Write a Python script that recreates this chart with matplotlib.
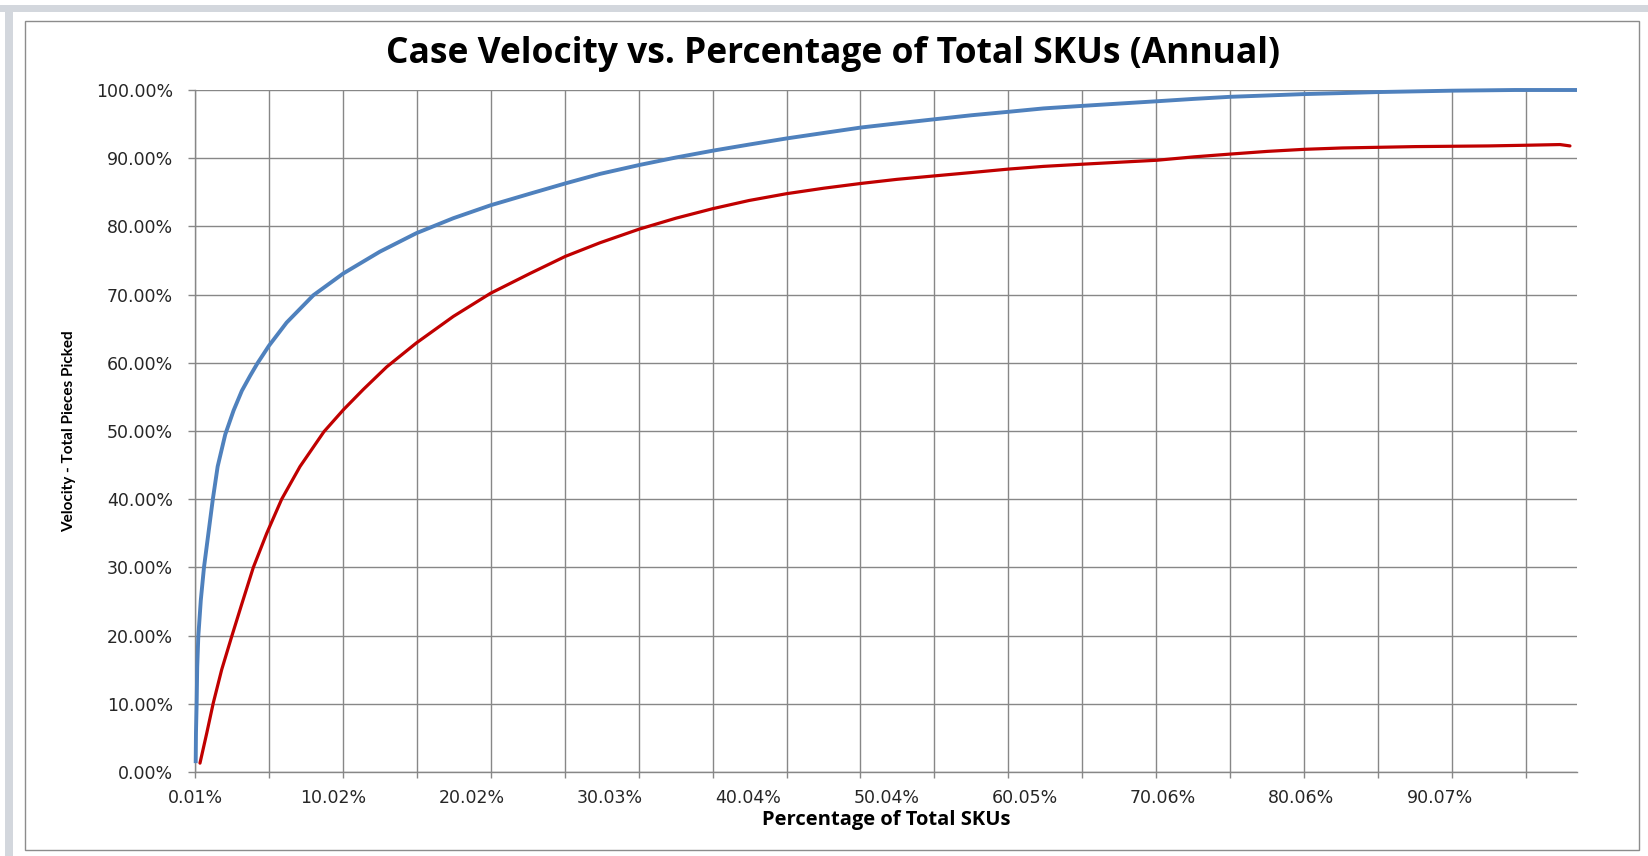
import matplotlib
matplotlib.use("Agg")
import matplotlib.pyplot as plt
from matplotlib.patches import Rectangle

# cumulative share of pieces picked vs. share of SKUs
sku_pct_blue = [0.06, 0.08, 0.13, 0.17, 0.25, 0.43, 0.66, 0.98, 1.3, 1.65, 2.2,
                2.8, 3.4, 4.0, 4.52, 5.36, 6.64, 8.57, 10.74, 13.39, 16.02, 18.7, 21.4,
                24.25, 26.8, 29.31, 32.15, 34.8, 37.47, 40.1, 42.82, 45.5, 48.2,
                50.8, 53.48, 56.2, 58.85, 61.4, 64.04, 66.8, 69.61, 72.3, 74.89,
                77.6, 80.25, 83.0, 85.67, 88.3, 90.95, 95.5, 100.0]
velocity_blue = [1.3, 5.7, 10.1, 15.4, 19.9, 25.2, 30.0, 35.0, 40.0, 44.8, 49.5,
                 53.0, 55.9, 58.1, 59.9, 62.5, 65.9, 69.9, 73.1, 76.3, 79.0, 81.2, 83.1,
                 84.8, 86.3, 87.7, 89.0, 90.1, 91.1, 92.0, 92.9, 93.7, 94.5,
                 95.1, 95.7, 96.3, 96.8, 97.3, 97.65, 98.0, 98.35, 98.7, 99.0,
                 99.2, 99.4, 99.55, 99.7, 99.8, 99.9, 100.0, 100.0]

sku_pct_red = [0.37, 0.86, 1.33, 1.94, 2.67, 3.39, 4.23, 5.2, 6.28, 7.61, 9.34,
               10.74, 12.19, 13.88, 16.02, 18.7, 21.4, 24.25, 26.8, 29.31, 32.15,
               34.8, 37.47, 40.1, 42.82, 45.5, 48.2, 50.8, 53.48, 56.2, 58.85,
               61.4, 64.04, 66.8, 69.61, 72.3, 74.89, 77.6, 80.25, 83.0, 85.67,
               88.3, 90.95, 93.6, 96.31, 98.77, 99.49]
velocity_red = [1.3, 5.7, 10.1, 15.0, 19.9, 24.6, 30.0, 35.0, 40.0, 44.8, 49.9,
                53.1, 56.1, 59.4, 62.9, 66.8, 70.2, 73.1, 75.6, 77.6, 79.6,
                81.2, 82.6, 83.8, 84.8, 85.6, 86.3, 86.9, 87.4, 87.9, 88.4,
                88.8, 89.1, 89.4, 89.7, 90.2, 90.6, 91.0, 91.3, 91.5, 91.6,
                91.7, 91.75, 91.8, 91.9, 92.0, 91.8]

x_labels = ['0.01%', '10.02%', '20.02%', '30.03%', '40.04%', '50.04%',
            '60.05%', '70.06%', '80.06%', '90.07%']
y_ticks = [0, 10, 20, 30, 40, 50, 60, 70, 80, 90, 100]

W, H = 1649, 856
fig = plt.figure(figsize=(W / 100, H / 100), dpi=100)
fig.patch.set_facecolor('white')

# window chrome + chart frame
band = '#d3d7dd'
fig.patches.append(Rectangle((0, 1 - 12 / H), 1, 7 / H, transform=fig.transFigure,
                             facecolor=band, edgecolor='none', zorder=-5))
fig.patches.append(Rectangle((5 / W, 0), 8 / W, 1 - 5 / H, transform=fig.transFigure,
                             facecolor=band, edgecolor='none', zorder=-5))
fig.patches.append(Rectangle((25 / W, 1 - 850 / H), (1639 - 25) / W, (850 - 21) / H,
                             transform=fig.transFigure, facecolor='none',
                             edgecolor='#8c8c8c', linewidth=1.0, zorder=-4))

ax = fig.add_axes([195 / W, 1 - 772 / H, 1382 / W, 682 / H])
ax.patch.set_alpha(0)
grid_col = '#878787'

ax.plot(sku_pct_blue, velocity_blue, color='#4f81bd', lw=2.8, clip_on=False,
        solid_capstyle='butt', solid_joinstyle='round', zorder=4)
ax.plot(sku_pct_red, velocity_red, color='#c00000', lw=2.3, clip_on=False,
        solid_capstyle='round', solid_joinstyle='round', zorder=4)

ax.set_xlim(0.01, 100.0)
ax.set_ylim(0, 100)

# tick marks / gridlines every ~5.35 %, labels every other block
grid_x = [0.01 + 5.35 * k for k in range(19)]
ax.set_xticks(grid_x)
ax.set_xticklabels([])
ax.set_xticks([float(s.rstrip('%')) for s in x_labels], minor=True)
ax.set_xticklabels(x_labels, minor=True)
ax.xaxis.remove_overlapping_locs = False

ax.set_yticks(y_ticks)
ax.set_yticklabels([f'{v:.2f}%' for v in y_ticks])

ax.grid(True, which='major', color=grid_col, lw=1.0)
ax.set_axisbelow(True)
ax.tick_params(axis='x', which='major', direction='out', length=4.5, color=grid_col, width=1.0)
ax.tick_params(axis='x', which='minor', length=0, pad=12, labelsize=12.5, labelcolor='#262626')
ax.tick_params(axis='y', direction='out', length=5, color=grid_col, width=1.0,
               pad=11, labelsize=12.5, labelcolor='#262626')
for s in ['top', 'right']:
    ax.spines[s].set_visible(False)
for s in ['left', 'bottom']:
    ax.spines[s].set_color(grid_col)
    ax.spines[s].set_linewidth(1.0)

fig.text(833 / W, 1 - 54 / H, 'Case Velocity vs. Percentage of Total SKUs (Annual)',
         ha='center', va='center', fontsize=25.5, fontweight='bold', family='Open Sans')
fig.text(886 / W, 1 - 820 / H, 'Percentage of Total SKUs', ha='center', va='center',
         fontsize=14.5, fontweight='bold', family='Open Sans')
fig.text(69 / W, 1 - 431 / H, 'Velocity - Total Pieces Picked', ha='center', va='center',
         rotation=90, fontsize=11, fontweight='bold', family='Lato')

fig.savefig('out.png', dpi=100)
